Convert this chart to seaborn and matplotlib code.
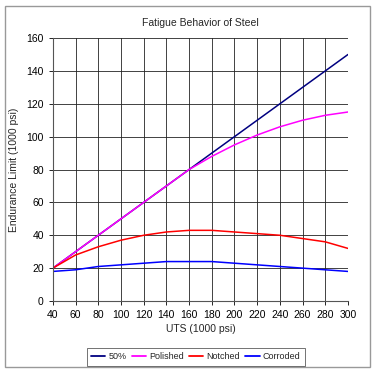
"""Fatigue behavior of steel: endurance limit vs UTS."""

import matplotlib
matplotlib.use("Agg")
from matplotlib import pyplot as plt
from matplotlib.patches import Rectangle
import pandas as pd
import seaborn as sb

uts = [40, 60, 80, 100, 120, 140, 160, 180, 200, 220, 240, 260, 280, 300]
fifty = [20, 30, 40, 50, 60, 70, 80, 90, 100, 110, 120, 130, 140, 150]
polished = [20, 30, 40, 50, 60, 70, 80, 88, 95, 101, 106, 110, 113, 115]
notched = [20, 28, 33, 37, 40, 42, 43, 43, 42, 41, 40, 38, 36, 32]
corroded = [18, 19, 21, 22, 23, 24, 24, 24, 23, 22, 21, 20, 19, 18]
series_names = ["50%", "Polished", "Notched", "Corroded"]
colors = ["#000080", "#FF00FF", "#FF0000", "#0000FF"]

# long format table for seaborn
df = pd.concat([
    pd.DataFrame({"UTS": uts, "value": vals, "series": name})
    for name, vals in zip(series_names, [fifty, polished, notched, corroded])
])

sb.set_style("white")
plt.rcParams["font.family"] = ["Liberation Sans", "DejaVu Sans"]

fig = plt.figure(figsize=(3.75, 3.73), dpi=100)
ax = fig.add_axes([0.141, 0.193, 0.787, 0.705])
sb.lineplot(data=df, x="UTS", y="value", hue="series", hue_order=series_names,
            palette=colors, linewidth=1.1, ax=ax, legend=False)

ax.set_xlim(40, 300)
ax.set_ylim(0, 160)
ax.set_xticks(range(40, 301, 20))
ax.set_yticks(range(0, 161, 20))
ax.grid(True, color="#222222", linewidth=0.6)
for side in ["top", "right"]:
    ax.spines[side].set_visible(False)
for side in ["left", "bottom"]:
    ax.spines[side].set_color("#555555")
    ax.spines[side].set_linewidth(0.8)
ax.tick_params(labelsize=7.5, length=3, width=0.6, direction="out", colors="black",
               left=True, bottom=True)
ax.set_xlabel("UTS (1000 psi)", fontsize=7.5, labelpad=3)
ax.set_ylabel("Endurance Limit (1000 psi)", fontsize=7.5, labelpad=5)
ax.set_title("Fatigue Behavior of Steel", fontsize=7.5, pad=9)

handles = [plt.Line2D([], [], color=c, linewidth=1.3) for c in colors]
leg = fig.legend(handles, series_names, loc="center", ncol=4,
                 bbox_to_anchor=(0.522, 0.043), fontsize=6.5, frameon=True,
                 fancybox=False, edgecolor="#333333", handlelength=1.6,
                 handletextpad=0.35, columnspacing=0.55, borderpad=0.45)
leg.get_frame().set_linewidth(0.6)

# outer border of the chart area
fig.patches.append(Rectangle((0.013, 0.016), 0.974, 0.968, transform=fig.transFigure,
                             fill=False, edgecolor="#999999", linewidth=1.0))

fig.savefig("out.png", dpi=100)
